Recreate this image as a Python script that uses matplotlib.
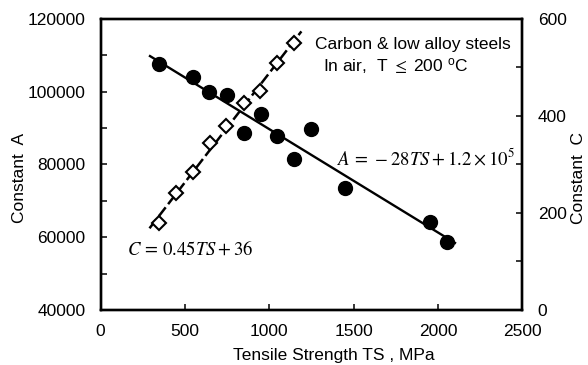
import numpy as np
import matplotlib
matplotlib.use('Agg')
import matplotlib.pyplot as plt
from matplotlib.ticker import MultipleLocator

plt.rcParams['font.family'] = ['Liberation Sans', 'DejaVu Sans']
plt.rcParams['mathtext.fontset'] = 'stix'

# Constant A (left axis), filled circles
ts_a = [345, 547, 645, 748, 847, 950, 1048, 1147, 1246, 1449, 1953, 2053]
const_a = [107600, 104000, 100000, 99100, 88600, 93900, 87800, 81400, 89700, 73500, 64300, 58800]

# Constant C (right axis), open diamonds
ts_c = [345, 448, 547, 649, 744, 847, 946, 1045, 1147]
const_c = [180, 242, 285, 344, 379, 426, 452, 510, 551]

# trendline extents
fit_range_a = [293, 2100]
fit_range_c = [290, 1190]

fs = 12.5

fig = plt.figure(figsize=(5.88, 3.65), dpi=100)
ax = fig.add_axes([0.171, 0.1507, 0.7176, 0.7973])
ax2 = ax.twinx()

# linear fits like the spreadsheet trendlines
pa = np.polyfit(ts_a, const_a, 1)
pc = np.polyfit(ts_c, const_c, 1)
xa = np.array(fit_range_a)
xc = np.array(fit_range_c)

ax.plot(xa, np.polyval(pa, xa), color='black', lw=1.7, zorder=2)
ax.plot(ts_a, const_a, 'o', color='black', ms=10, zorder=3)

ax2.plot(xc, np.polyval(pc, xc), color='black', lw=1.8,
         linestyle=(0, (4.5, 1.6)), zorder=2)
ax2.plot(ts_c, const_c, 'D', mfc='white', mec='black', mew=1.5, ms=7, zorder=3)

ax.set_xlim(0, 2500)
ax.set_ylim(40000, 120000)
ax2.set_ylim(0, 600)

ax.xaxis.set_major_locator(MultipleLocator(500))
ax.yaxis.set_major_locator(MultipleLocator(20000))
ax.yaxis.set_minor_locator(MultipleLocator(10000))
ax2.yaxis.set_major_locator(MultipleLocator(200))
ax2.yaxis.set_minor_locator(MultipleLocator(100))

for a in (ax, ax2):
    for s in a.spines.values():
        s.set_linewidth(1.7)
    a.tick_params(which='both', direction='in', length=4, width=1.1,
                  labelsize=fs, pad=11)
ax.tick_params(axis='x', which='minor', bottom=False)
ax.tick_params(axis='x', pad=10)

ax.set_xlabel('Tensile Strength TS , MPa', fontsize=fs)
ax.xaxis.set_label_coords(0.554, -0.132)
ax.set_ylabel('Constant  A', fontsize=fs)
ax.yaxis.set_label_coords(-0.174, 0.454)
ax2.set_ylabel('Constant  C', fontsize=fs, rotation=90)
ax2.yaxis.set_label_coords(1.114, 0.454)

ax.text(0.509, 0.911, 'Carbon & low alloy steels', transform=ax.transAxes,
        fontsize=fs, ha='left', va='center')
ax.text(0.5265, 0.835, 'In air,  T $\\leq$ 200 $^{\\mathregular{o}}$C',
        transform=ax.transAxes, fontsize=fs, ha='left', va='center')

ax.text(1401, 81800, r'$A\,=\,-28TS + 1.2 \times 10^5$', fontsize=13.5,
        ha='left', va='center')
ax.text(155, 56500, r'$C\,=\,0.45TS + 36$', fontsize=13.5,
        ha='left', va='center')

fig.savefig('out.png', dpi=100)
